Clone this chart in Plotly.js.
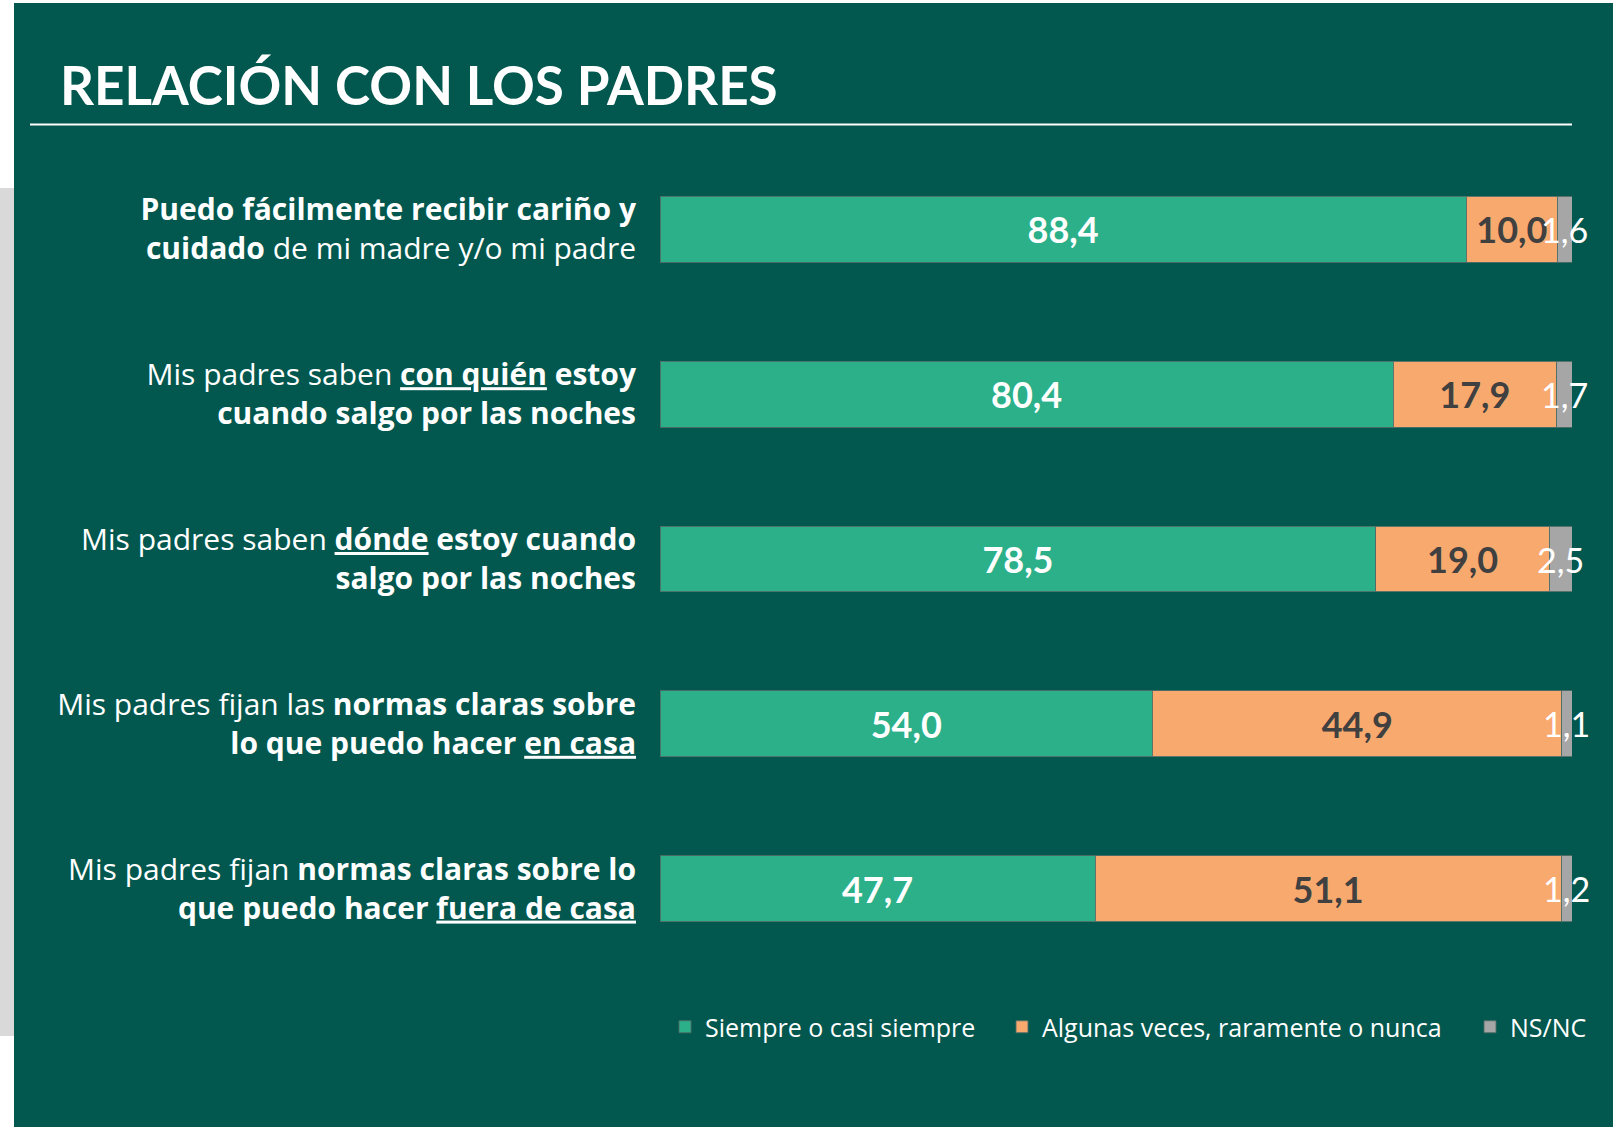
<!DOCTYPE html>
<html>
<head>
<meta charset="utf-8">
<script src="https://cdn.plot.ly/plotly-3.0.1.min.js"></script>
<style>html,body{margin:0;padding:0;background:#fff;}#chart{width:1613px;height:1127px;}</style>
</head>
<body>
<div id="chart"></div>
<script>
// ---- data ----
const categories = [
  "<b>Puedo fácilmente recibir cariño y</b><br><b>cuidado</b> de mi madre y/o mi padre",
  "Mis padres saben <b><u>con quién</u> estoy</b><br><b>cuando salgo por las noches</b>",
  "Mis padres saben <b><u>dónde</u> estoy cuando</b><br><b>salgo por las noches</b>",
  "Mis padres fijan las <b>normas claras sobre</b><br><b>lo que puedo hacer <u>en casa</u></b>",
  "Mis padres fijan <b>normas claras sobre lo</b><br><b>que puedo hacer <u>fuera de casa</u></b>"
];
const siempre = [88.4, 80.4, 78.5, 54.0, 47.7];
const algunas = [10.0, 17.9, 19.0, 44.9, 51.1];
const nsnc    = [1.6, 1.7, 2.5, 1.1, 1.2];
const seriesNames = ["Siempre o casi siempre", "Algunas veces, raramente o nunca", "NS/NC"];
const titleText = "RELACIÓN CON LOS PADRES";

// ---- style ----
const BG = "#02574E";
const C_GREEN = "#2BB08A";
const C_ORANGE = "#F8A96E";
const C_GRAY = "#A6A6A6";
const fmt = v => v.toFixed(1).replace(".", ",");
const W = 1613, H = 1127, ML = 660, MR = 41, MT = 147, MB = 156;
const X = px => (px - ML) / (W - ML - MR);
const Y = py => (H - MB - py) / (H - MT - MB);
const barLine = {color: "rgba(80,110,104,0.9)", width: 1};

const traces = [
  {type: "bar", orientation: "h", name: seriesNames[0], legend: "legend", y: categories, x: siempre,
   marker: {color: C_GREEN, line: barLine}, text: siempre.map(fmt), textposition: "inside",
   insidetextanchor: "middle", textfont: {family: "Lato", size: 36, color: "#ffffff", weight: 700},
   hoverinfo: "x+name"},
  {type: "bar", orientation: "h", name: seriesNames[1], legend: "legend2", y: categories, x: algunas,
   marker: {color: C_ORANGE, line: barLine}, text: algunas.map(fmt), textposition: "inside",
   insidetextanchor: "middle", textfont: {family: "Lato", size: 36, color: "#404040", weight: 700},
   hoverinfo: "x+name"},
  {type: "bar", orientation: "h", name: seriesNames[2], legend: "legend3", y: categories, x: nsnc,
   marker: {color: C_GRAY, line: barLine}, textposition: "none", hoverinfo: "x+name"}
];

// NS/NC value labels, centred on the grey segment (they overflow it, as in the original)
const nsncLabels = nsnc.map((v, i) => ({
  xref: "x", yref: "y", x: siempre[i] + algunas[i] + v / 2, y: categories[i],
  text: fmt(v), showarrow: false, xanchor: "center", yanchor: "middle", yshift: 0,
  font: {family: "Lato", size: 34, color: "#ffffff"}
}));

const legendBase = x => ({orientation: "h", xref: "container", yref: "container", x: x / W, xanchor: "left",
  y: 1 - 1027 / H, yanchor: "middle", font: {family: "Open Sans", size: 25, color: "#ffffff"},
  bgcolor: "rgba(0,0,0,0)", borderwidth: 0});

const layout = {
  width: W, height: H, autosize: false,
  paper_bgcolor: BG, plot_bgcolor: BG,
  margin: {l: ML, r: MR, t: MT, b: MB, pad: 0},
  barmode: "stack", bargap: 0.6,
  showlegend: true,
  title: {text: titleText, font: {family: "Lato", size: 53, color: "#ffffff", weight: 700},
          xref: "container", x: 60 / W, xanchor: "left",
          yref: "container", y: 1 - 86 / H, yanchor: "middle"},
  xaxis: {range: [0, 100], showgrid: false, zeroline: false, showticklabels: false, showline: false, fixedrange: true},
  yaxis: {type: "category", autorange: "reversed", showgrid: false, zeroline: false, showline: false,
          ticks: "outside", ticklen: 17, tickcolor: "rgba(0,0,0,0)",
          tickfont: {family: "Open Sans", size: 30, color: "#ffffff"}, fixedrange: true},
  legend: legendBase(665),
  legend2: legendBase(1002),
  legend3: legendBase(1470),
  annotations: nsncLabels,
  shapes: [
    {type: "rect", xref: "paper", yref: "paper", x0: X(0), x1: X(14), y0: Y(H), y1: Y(0),
     fillcolor: "#ffffff", line: {width: 0}, layer: "below"},
    {type: "rect", xref: "paper", yref: "paper", x0: X(0), x1: X(14), y0: Y(1036), y1: Y(188),
     fillcolor: "#D9D9D9", line: {width: 0}, layer: "below"},
    {type: "rect", xref: "paper", yref: "paper", x0: X(0), x1: X(W), y0: Y(3), y1: Y(0),
     fillcolor: "#ffffff", line: {width: 0}, layer: "below"},
    {type: "line", xref: "paper", yref: "paper", x0: X(30), x1: X(1572), y0: Y(124.5), y1: Y(124.5),
     line: {color: "#ffffff", width: 2}}
  ]
};

Plotly.newPlot("chart", traces, layout, {displayModeBar: false, staticPlot: true});
</script>
</body>
</html>
